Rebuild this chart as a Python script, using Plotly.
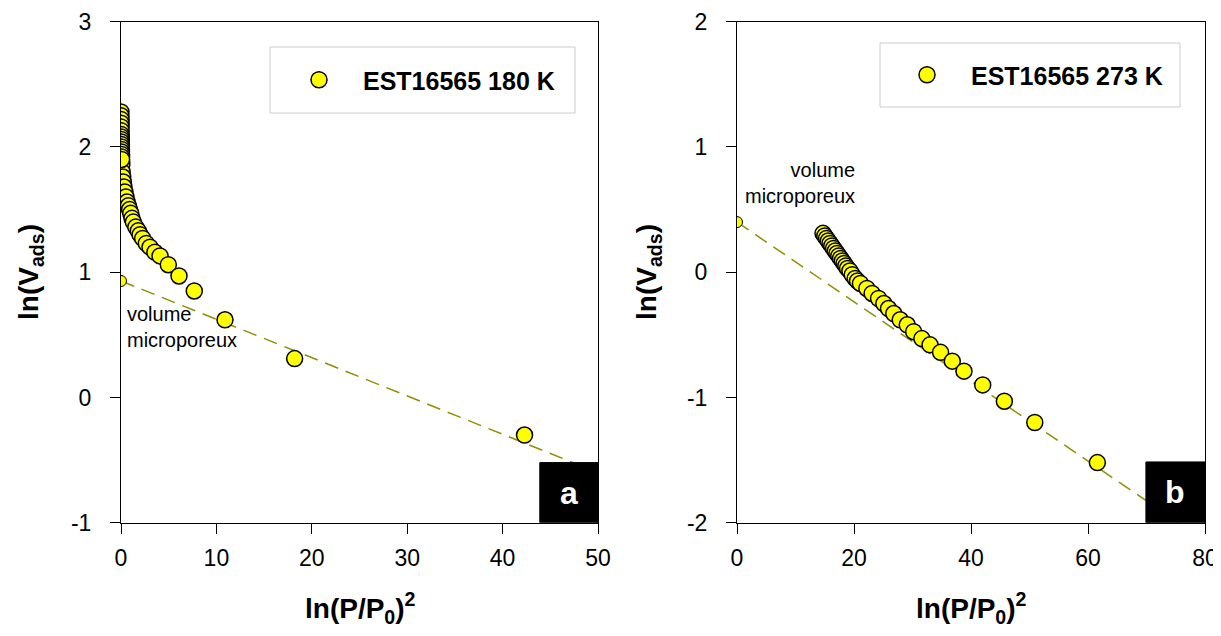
import plotly.graph_objects as go

# ---- data: panel a (180 K) ----
x180 = [0.00, 0.00, 0.01, 0.01, 0.01, 0.02, 0.02, 0.02, 0.03, 0.03, 0.04, 0.04, 0.05, 0.05,
        0.06, 0.06, 0.07, 0.09, 0.12, 0.18, 0.24, 0.31, 0.41, 0.52, 0.64, 0.77, 0.90, 1.02,
        1.15, 1.29, 1.55, 1.81, 2.00, 2.27, 2.65, 3.04, 3.55, 4.09, 4.96, 6.08, 7.68, 10.9,
        18.2, 42.3, 0.06]
y180 = [2.28, 2.25, 2.22, 2.19, 2.16, 2.13, 2.10, 2.08, 2.06, 2.04, 2.02, 2.00, 1.98, 1.96,
        1.94, 1.92, 1.88, 1.86, 1.80, 1.76, 1.72, 1.68, 1.64, 1.60, 1.56, 1.53, 1.50, 1.47,
        1.43, 1.40, 1.36, 1.33, 1.30, 1.27, 1.23, 1.20, 1.16, 1.13, 1.06, 0.97, 0.85, 0.62,
        0.31, -0.30, 1.90]
fit180_x = [0, 50]
fit180_y = [0.93, 0.93 - 0.0306 * 50]
micro180 = (0, 0.93)
xt180 = [0, 10, 20, 30, 40, 50]
yt180 = [-1, 0, 1, 2, 3]

# ---- data: panel b (273 K) ----
x273 = [14.7, 15.0, 15.3, 15.6, 15.9, 16.2, 16.5, 16.8, 17.1, 17.4, 17.7, 18.0, 18.3, 18.6,
        18.9, 19.3, 19.7, 20.2, 20.6, 21.1, 22.2, 23.1, 24.2, 25.1, 25.9, 26.8, 27.9, 29.1,
        30.2, 31.6, 33.0, 34.8, 36.8, 38.8, 42.0, 45.7, 50.9, 61.6]
y273 = [0.31, 0.29, 0.27, 0.25, 0.23, 0.21, 0.19, 0.17, 0.15, 0.13, 0.11, 0.09, 0.07, 0.05,
        0.03, 0.01, -0.02, -0.05, -0.07, -0.09, -0.13, -0.17, -0.21, -0.25, -0.29, -0.33, -0.38, -0.42,
        -0.475, -0.53, -0.58, -0.64, -0.71, -0.79, -0.90, -1.03, -1.20, -1.52]
fit273_x = [0, 80]
fit273_y = [0.40, 0.40 - 0.0318 * 80]
micro273 = (0, 0.40)
xt273 = [0, 20, 40, 60, 80]
yt273 = [-2, -1, 0, 1, 2]

# page body has an 8px margin: coordinates are offset so the picture lines up with the window
OFF = 8
W, H = 1221 - OFF, 636 - 2 * OFF
FONT = "Arial, Liberation Sans, sans-serif"
YELLOW = "#FFFF00"
OLIVE = "#8f8f00"

fig = go.Figure()

def px(xp):
    return (xp - OFF) / W

def py(yp):
    return 1 - (yp - OFF) / H

# fit lines
for fx, fy, xa, ya in ((fit180_x, fit180_y, "x", "y"), (fit273_x, fit273_y, "x2", "y2")):
    fig.add_trace(go.Scatter(x=fx, y=fy, mode="lines", xaxis=xa, yaxis=ya,
                             line=dict(color=OLIVE, width=1.5, dash="14px,8px"), showlegend=False))
# micropore intercept points
for m, xa, ya in ((micro180, "x", "y"), (micro273, "x2", "y2")):
    fig.add_trace(go.Scatter(x=[m[0]], y=[m[1]], mode="markers", xaxis=xa, yaxis=ya,
                             marker=dict(size=11, color=YELLOW, line=dict(color="black", width=1)),
                             showlegend=False))
# data
fig.add_trace(go.Scatter(x=x180, y=y180, mode="markers", xaxis="x", yaxis="y",
                         name="<b>EST16565 180 K</b>", legend="legend",
                         marker=dict(size=16, color=YELLOW, line=dict(color="black", width=1.5))))
fig.add_trace(go.Scatter(x=x273, y=y273, mode="markers", xaxis="x2", yaxis="y2",
                         name="<b>EST16565 273 K</b>", legend="legend2",
                         marker=dict(size=16, color=YELLOW, line=dict(color="black", width=1.5))))

axis_common = dict(showgrid=False, zeroline=False, showline=True, mirror=True,
                   linecolor="black", linewidth=1, ticks="outside", ticklen=10,
                   tickcolor="black", tickwidth=1, automargin=False, ticklabeloverflow="allow",
                   tickfont=dict(family=FONT, size=23, color="black"))

def labels(vals):
    return [str(v) for v in vals]

y_dom = [py(522.7), py(21.7)]
leg_common = dict(xanchor="left", yanchor="middle", bgcolor="rgba(0,0,0,0)", borderwidth=0,
                  itemwidth=78, font=dict(family=FONT, size=25, color="black"))
fig.update_layout(
    width=W, height=H, margin=dict(l=0, r=0, t=0, b=0),
    plot_bgcolor="white", paper_bgcolor="white",
    xaxis=dict(domain=[px(121), px(598)], range=[0, 50], tickvals=xt180, ticktext=labels(xt180),
               anchor="y", ticklabelstandoff=5, **axis_common),
    yaxis=dict(domain=y_dom, range=[-1, 3], tickvals=yt180, ticktext=labels(yt180), anchor="x",
               ticklabelstandoff=14, **axis_common),
    xaxis2=dict(domain=[px(737), px(1205)], range=[0, 80], tickvals=xt273, ticktext=labels(xt273),
                anchor="y2", ticklabelstandoff=5, **axis_common),
    yaxis2=dict(domain=y_dom, range=[-2, 2], tickvals=yt273, ticktext=labels(yt273), anchor="x2",
                ticklabelstandoff=14, **axis_common),
    legend=dict(x=px(275), y=py(80), **leg_common),
    legend2=dict(x=px(883), y=py(75), **leg_common),
)

# legend frames
fig.add_shape(type="rect", xref="paper", yref="paper", x0=px(270), x1=px(575), y0=py(113), y1=py(47),
              line=dict(color="#cccccc", width=1), fillcolor="rgba(0,0,0,0)", layer="below")
fig.add_shape(type="rect", xref="paper", yref="paper", x0=px(880), x1=px(1180), y0=py(107), y1=py(43),
              line=dict(color="#cccccc", width=1), fillcolor="rgba(0,0,0,0)", layer="below")

# panel labels
fig.add_shape(type="rect", xref="x", yref="y", x0=43.9, x1=50, y0=-1, y1=-0.52,
              fillcolor="black", line=dict(color="black", width=1), layer="above")
fig.add_shape(type="rect", xref="x2", yref="y2", x0=69.9, x1=80, y0=-2, y1=-1.515,
              fillcolor="black", line=dict(color="black", width=1), layer="above")
fig.add_annotation(x=(43.9 + 50) / 2, y=-0.76, xref="x", yref="y", text="<b>a</b>", showarrow=False,
                   xanchor="center", yanchor="middle",
                   font=dict(family=FONT, size=32, color="white"))
fig.add_annotation(x=(69.9 + 80) / 2, y=-1.757, xref="x2", yref="y2", text="<b>b</b>", showarrow=False,
                   xanchor="center", yanchor="middle",
                   font=dict(family=FONT, size=32, color="white"))

# volume microporeux labels
fig.add_annotation(x=0.4, y=0.56, xref="x", yref="y", xanchor="left", yanchor="middle", align="left",
                   text="volume<br>microporeux", showarrow=False,
                   font=dict(family=FONT, size=20, color="black"))
fig.add_annotation(x=20.5, y=0.71, xref="x2", yref="y2", xanchor="right", yanchor="middle", align="right",
                   text="volume<br>microporeux", showarrow=False,
                   font=dict(family=FONT, size=20, color="black"))

# axis titles
ytitle = "<b>ln(V<sub>ads</sub>)</b>"
xtitle = "<b>ln(P/P<sub>0</sub>)<sup>2</sup></b>"
for xc in (30, 648):
    fig.add_annotation(x=px(xc), y=py(272), xref="paper", yref="paper", text=ytitle, textangle=-90,
                       xanchor="center", yanchor="middle",
                       showarrow=False, font=dict(family=FONT, size=28, color="black"))
for xc in (360, 971):
    fig.add_annotation(x=px(xc), y=py(608), xref="paper", yref="paper", text=xtitle,
                       xanchor="center", yanchor="middle",
                       showarrow=False, font=dict(family=FONT, size=28, color="black"))

fig.write_html("out.html")
